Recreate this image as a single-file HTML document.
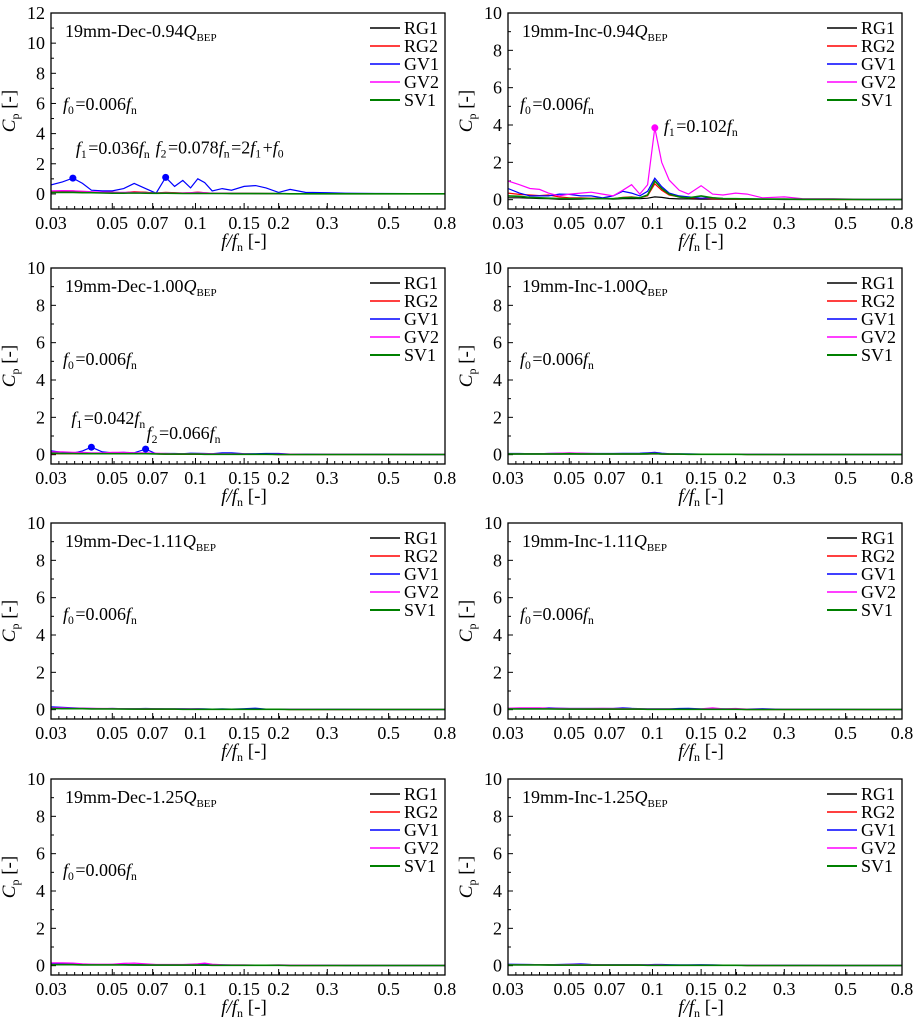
<!DOCTYPE html>
<html><head><meta charset="utf-8">
<style>
html,body{margin:0;padding:0;background:#fff;}
svg{display:block;font-family:"Liberation Serif",serif;}
</style></head>
<body>
<svg id="fig" width="918" height="1024" viewBox="0 0 918 1024"></svg>
<script>
// shared frequency grid (f/fn)
const freqs = [0.03,0.033,0.036,0.039,0.042,0.046,0.05,0.055,0.06,0.066,0.072,0.078,0.084,0.09,0.096,0.102,0.108,0.115,0.125,0.135,0.15,0.165,0.18,0.2,0.22,0.25,0.3,0.35,0.45,0.6,0.8];
const xTickLabels = [0.03,0.05,0.07,0.1,0.15,0.2,0.3,0.5,0.8];
const seriesNames = ["RG1","RG2","GV1","GV2","SV1"];

// Panel 1: Dec 0.94
const dec094_RG1 = [0.15,0.15,0.15,0.12,0.1,0.1,0.1,0.08,0.12,0.1,0.05,0.08,0.06,0.05,0.05,0.06,0.05,0.04,0.04,0.03,0.03,0.03,0.02,0.02,0.02,0.02,0.01,0.01,0.01,0.01,0.01];
const dec094_RG2 = [0.15,0.2,0.2,0.15,0.12,0.1,0.1,0.08,0.15,0.1,0.06,0.1,0.08,0.06,0.08,0.12,0.08,0.05,0.05,0.04,0.04,0.03,0.03,0.02,0.02,0.02,0.02,0.01,0.01,0.01,0.01];
const dec094_GV1 = [0.6,0.8,1.05,0.7,0.25,0.2,0.2,0.35,0.7,0.35,0.05,1.1,0.5,0.9,0.4,1.0,0.75,0.2,0.35,0.25,0.5,0.55,0.4,0.1,0.3,0.1,0.08,0.05,0.03,0.02,0.02];
const dec094_GV2 = [0.2,0.22,0.2,0.18,0.15,0.12,0.1,0.1,0.1,0.08,0.06,0.08,0.06,0.06,0.08,0.1,0.08,0.05,0.05,0.04,0.04,0.03,0.03,0.02,0.02,0.02,0.02,0.01,0.01,0.01,0.01];
const dec094_SV1 = [0.1,0.1,0.1,0.08,0.08,0.06,0.05,0.05,0.06,0.05,0.04,0.05,0.04,0.03,0.03,0.04,0.03,0.03,0.03,0.02,0.02,0.02,0.02,0.02,0.01,0.01,0.01,0.01,0.01,0.01,0.01];
// Panel 2: Inc 0.94
const inc094_RG1 = [0.1,0.1,0.08,0.06,0.05,0.02,0.02,0.03,0.05,0.05,0.03,0.05,0.06,0.05,0.08,0.15,0.12,0.06,0.04,0.04,0.03,0.03,0.02,0.02,0.02,0.02,0.01,0.01,0.01,0.01,0.01];
const inc094_RG2 = [0.35,0.28,0.25,0.22,0.25,0.15,0.1,0.1,0.08,0.08,0.05,0.12,0.15,0.1,0.2,0.85,0.5,0.25,0.15,0.1,0.08,0.05,0.04,0.03,0.03,0.02,0.02,0.02,0.01,0.01,0.01];
const inc094_GV1 = [0.6,0.35,0.2,0.2,0.2,0.3,0.28,0.2,0.2,0.1,0.2,0.45,0.35,0.2,0.45,1.15,0.7,0.35,0.2,0.15,0.08,0.1,0.06,0.05,0.05,0.03,0.03,0.02,0.02,0.01,0.01];
const inc094_GV2 = [1.0,0.8,0.6,0.55,0.35,0.2,0.3,0.35,0.4,0.3,0.2,0.5,0.8,0.3,0.8,3.85,2.0,1.05,0.5,0.3,0.75,0.3,0.25,0.35,0.3,0.1,0.15,0.05,0.05,0.02,0.02];
const inc094_SV1 = [0.2,0.18,0.12,0.1,0.08,0.06,0.06,0.06,0.05,0.06,0.05,0.1,0.12,0.1,0.25,1.0,0.6,0.3,0.15,0.1,0.2,0.1,0.06,0.05,0.04,0.03,0.03,0.02,0.02,0.01,0.01];
// Panel 3: Dec 1.00
const dec100_RG1 = [0.05,0.05,0.05,0.05,0.06,0.05,0.05,0.05,0.05,0.06,0.04,0.03,0.03,0.02,0.02,0.02,0.02,0.02,0.02,0.02,0.02,0.02,0.02,0.01,0.01,0.01,0.01,0.01,0.01,0.01,0.01];
const dec100_RG2 = [0.05,0.05,0.06,0.05,0.06,0.06,0.05,0.05,0.05,0.06,0.04,0.03,0.03,0.02,0.02,0.02,0.02,0.02,0.02,0.02,0.02,0.02,0.02,0.01,0.01,0.01,0.01,0.01,0.01,0.01,0.01];
const dec100_GV1 = [0.2,0.12,0.08,0.2,0.4,0.15,0.1,0.12,0.1,0.3,0.05,0.06,0.06,0.05,0.08,0.07,0.06,0.05,0.1,0.1,0.05,0.05,0.06,0.06,0.03,0.03,0.02,0.02,0.02,0.01,0.01];
const dec100_GV2 = [0.15,0.15,0.12,0.12,0.1,0.1,0.12,0.12,0.1,0.1,0.08,0.06,0.05,0.05,0.05,0.05,0.05,0.05,0.04,0.04,0.04,0.03,0.03,0.03,0.03,0.02,0.02,0.02,0.01,0.01,0.01];
const dec100_SV1 = [0.08,0.07,0.06,0.05,0.05,0.05,0.05,0.05,0.05,0.05,0.04,0.03,0.03,0.03,0.03,0.03,0.02,0.02,0.02,0.02,0.02,0.02,0.02,0.01,0.01,0.01,0.01,0.01,0.01,0.01,0.01];
// Panel 4: Inc 1.00
const inc100_RG1 = [0.03,0.03,0.03,0.03,0.03,0.03,0.03,0.03,0.03,0.03,0.03,0.03,0.03,0.03,0.03,0.04,0.03,0.03,0.02,0.02,0.02,0.02,0.02,0.02,0.01,0.01,0.01,0.01,0.01,0.01,0.01];
const inc100_RG2 = [0.04,0.04,0.04,0.04,0.05,0.06,0.08,0.06,0.05,0.04,0.04,0.04,0.04,0.04,0.05,0.06,0.04,0.03,0.03,0.02,0.02,0.02,0.02,0.02,0.01,0.01,0.01,0.01,0.01,0.01,0.01];
const inc100_GV1 = [0.06,0.06,0.05,0.05,0.06,0.07,0.08,0.07,0.06,0.06,0.06,0.07,0.07,0.08,0.1,0.12,0.08,0.05,0.04,0.04,0.03,0.03,0.03,0.02,0.02,0.02,0.01,0.01,0.01,0.01,0.01];
const inc100_GV2 = [0.05,0.05,0.05,0.05,0.06,0.08,0.1,0.08,0.06,0.05,0.05,0.05,0.05,0.05,0.06,0.08,0.05,0.04,0.03,0.03,0.03,0.02,0.02,0.02,0.02,0.01,0.01,0.01,0.01,0.01,0.01];
const inc100_SV1 = [0.04,0.04,0.04,0.04,0.04,0.04,0.05,0.04,0.04,0.04,0.04,0.04,0.04,0.04,0.05,0.06,0.04,0.03,0.03,0.02,0.02,0.02,0.02,0.02,0.01,0.01,0.01,0.01,0.01,0.01,0.01];
// Panel 5: Dec 1.11
const dec111_RG1 = [0.08,0.06,0.06,0.05,0.05,0.04,0.04,0.04,0.03,0.03,0.03,0.03,0.03,0.03,0.03,0.02,0.02,0.02,0.02,0.02,0.02,0.02,0.02,0.02,0.01,0.01,0.01,0.01,0.01,0.01,0.01];
const dec111_RG2 = [0.08,0.07,0.06,0.06,0.05,0.05,0.04,0.04,0.04,0.03,0.03,0.03,0.03,0.03,0.03,0.03,0.02,0.02,0.02,0.02,0.02,0.02,0.02,0.02,0.01,0.01,0.01,0.01,0.01,0.01,0.01];
const dec111_GV1 = [0.15,0.12,0.1,0.08,0.06,0.05,0.06,0.05,0.05,0.06,0.05,0.04,0.04,0.05,0.04,0.05,0.04,0.03,0.04,0.03,0.05,0.08,0.03,0.03,0.02,0.02,0.02,0.02,0.01,0.01,0.01];
const dec111_GV2 = [0.1,0.1,0.08,0.08,0.07,0.06,0.06,0.05,0.05,0.05,0.05,0.04,0.04,0.04,0.04,0.04,0.03,0.03,0.03,0.03,0.03,0.03,0.02,0.02,0.02,0.02,0.01,0.01,0.01,0.01,0.01];
const dec111_SV1 = [0.06,0.05,0.05,0.05,0.04,0.04,0.04,0.03,0.03,0.03,0.03,0.03,0.03,0.02,0.02,0.02,0.02,0.02,0.02,0.02,0.02,0.02,0.02,0.02,0.01,0.01,0.01,0.01,0.01,0.01,0.01];
// Panel 6: Inc 1.11
const inc111_RG1 = [0.05,0.05,0.05,0.04,0.04,0.04,0.03,0.03,0.03,0.03,0.03,0.03,0.03,0.02,0.02,0.02,0.02,0.02,0.02,0.02,0.02,0.02,0.02,0.02,0.01,0.01,0.01,0.01,0.01,0.01,0.01];
const inc111_RG2 = [0.06,0.06,0.06,0.05,0.05,0.04,0.04,0.04,0.03,0.03,0.03,0.03,0.03,0.03,0.03,0.02,0.02,0.02,0.02,0.02,0.02,0.02,0.02,0.02,0.01,0.01,0.01,0.01,0.01,0.01,0.01];
const inc111_GV1 = [0.06,0.07,0.08,0.08,0.1,0.08,0.06,0.06,0.06,0.06,0.06,0.1,0.07,0.05,0.04,0.04,0.04,0.04,0.06,0.07,0.04,0.04,0.04,0.03,0.03,0.05,0.02,0.02,0.02,0.01,0.01];
const inc111_GV2 = [0.08,0.1,0.1,0.1,0.08,0.07,0.06,0.06,0.06,0.07,0.06,0.06,0.05,0.05,0.04,0.04,0.04,0.04,0.03,0.03,0.04,0.1,0.04,0.06,0.03,0.02,0.02,0.02,0.01,0.01,0.01];
const inc111_SV1 = [0.04,0.04,0.04,0.04,0.04,0.03,0.03,0.03,0.03,0.03,0.03,0.03,0.03,0.03,0.02,0.02,0.02,0.02,0.02,0.02,0.02,0.02,0.02,0.02,0.01,0.01,0.01,0.01,0.01,0.01,0.01];
// Panel 7: Dec 1.25
const dec125_RG1 = [0.06,0.06,0.05,0.05,0.04,0.04,0.04,0.04,0.03,0.03,0.03,0.03,0.03,0.03,0.03,0.03,0.03,0.02,0.02,0.02,0.02,0.02,0.02,0.02,0.01,0.01,0.01,0.01,0.01,0.01,0.01];
const dec125_RG2 = [0.08,0.08,0.07,0.06,0.05,0.05,0.05,0.05,0.05,0.04,0.04,0.04,0.04,0.04,0.04,0.04,0.04,0.03,0.03,0.02,0.02,0.02,0.02,0.02,0.01,0.01,0.01,0.01,0.01,0.01,0.01];
const dec125_GV1 = [0.1,0.08,0.08,0.06,0.06,0.05,0.06,0.06,0.05,0.05,0.05,0.05,0.05,0.05,0.06,0.06,0.1,0.06,0.04,0.03,0.03,0.03,0.02,0.02,0.02,0.02,0.02,0.01,0.01,0.01,0.01];
const dec125_GV2 = [0.15,0.15,0.14,0.1,0.08,0.08,0.08,0.12,0.14,0.1,0.06,0.06,0.06,0.06,0.08,0.1,0.14,0.08,0.05,0.04,0.04,0.03,0.03,0.04,0.03,0.03,0.02,0.02,0.01,0.01,0.01];
const dec125_SV1 = [0.05,0.05,0.05,0.04,0.04,0.04,0.04,0.04,0.04,0.03,0.03,0.03,0.03,0.03,0.03,0.03,0.03,0.02,0.02,0.02,0.02,0.02,0.02,0.02,0.01,0.01,0.01,0.01,0.01,0.01,0.01];
// Panel 8: Inc 1.25
const inc125_RG1 = [0.04,0.04,0.04,0.04,0.03,0.03,0.03,0.03,0.03,0.03,0.03,0.03,0.03,0.03,0.02,0.02,0.02,0.02,0.02,0.02,0.02,0.02,0.02,0.02,0.01,0.01,0.01,0.01,0.01,0.01,0.01];
const inc125_RG2 = [0.05,0.05,0.05,0.04,0.04,0.04,0.04,0.04,0.03,0.03,0.03,0.03,0.03,0.03,0.03,0.03,0.03,0.02,0.02,0.02,0.02,0.02,0.02,0.02,0.01,0.01,0.01,0.01,0.01,0.01,0.01];
const inc125_GV1 = [0.08,0.07,0.06,0.05,0.05,0.06,0.08,0.1,0.06,0.05,0.05,0.05,0.05,0.05,0.05,0.06,0.06,0.05,0.04,0.04,0.05,0.04,0.03,0.03,0.02,0.02,0.02,0.02,0.01,0.01,0.01];
const inc125_GV2 = [0.05,0.05,0.05,0.05,0.05,0.05,0.06,0.06,0.05,0.05,0.04,0.04,0.04,0.04,0.04,0.04,0.04,0.03,0.03,0.03,0.03,0.03,0.02,0.02,0.02,0.02,0.01,0.01,0.01,0.01,0.01];
const inc125_SV1 = [0.04,0.04,0.04,0.04,0.04,0.03,0.03,0.03,0.03,0.03,0.03,0.03,0.03,0.03,0.02,0.02,0.02,0.02,0.02,0.02,0.02,0.02,0.02,0.02,0.01,0.01,0.01,0.01,0.01,0.01,0.01];

const colors = {RG1:"#000000",RG2:"#ff0000",GV1:"#0000ff",GV2:"#ff00ff",SV1:"#008000"};
const NS = "http://www.w3.org/2000/svg";
const svg = document.getElementById("fig");
function el(tag, attrs, parent){
  const e = document.createElementNS(NS, tag);
  for (const k in attrs) e.setAttribute(k, attrs[k]);
  (parent||svg).appendChild(e);
  return e;
}
const rowTops = [13, 268, 523, 779];
const colLefts = [51, 508];
const W = 394, H = 196;
const FS = 18;
const panels = [
  {id:"dec-094", title:"19mm-Dec-0.94", col:0,row:0, ymin:-1, ymax:12, yticks:[0,2,4,6,8,10,12], f0:true,
   data:{RG1:dec094_RG1,RG2:dec094_RG2,GV1:dec094_GV1,GV2:dec094_GV2,SV1:dec094_SV1},
   marks:[{s:"GV1",i:2,lbl:[["f","1"],"=0.036",["f","n"]],dx:3,dy:-24},{s:"GV1",i:11,lbl:[["f","2"],"=0.078",["f","n"],"=2",["f","1"],"+",["f","0"]],dx:-10,dy:-24}]},
  {id:"inc-094", title:"19mm-Inc-0.94", col:1,row:0, ymin:-0.5, ymax:10, yticks:[0,2,4,6,8,10], f0:true,
   data:{RG1:inc094_RG1,RG2:inc094_RG2,GV1:inc094_GV1,GV2:inc094_GV2,SV1:inc094_SV1},
   marks:[{s:"GV2",i:15,lbl:[["f","1"],"=0.102",["f","n"]],dx:9,dy:4}]},
  {id:"dec-100", title:"19mm-Dec-1.00", col:0,row:1, ymin:-0.5, ymax:10, yticks:[0,2,4,6,8,10], f0:true,
   data:{RG1:dec100_RG1,RG2:dec100_RG2,GV1:dec100_GV1,GV2:dec100_GV2,SV1:dec100_SV1},
   marks:[{s:"GV1",i:4,lbl:[["f","1"],"=0.042",["f","n"]],dx:-20,dy:-23},{s:"GV1",i:9,lbl:[["f","2"],"=0.066",["f","n"]],dx:1,dy:-10}]},
  {id:"inc-100", title:"19mm-Inc-1.00", col:1,row:1, ymin:-0.5, ymax:10, yticks:[0,2,4,6,8,10], f0:true,
   data:{RG1:inc100_RG1,RG2:inc100_RG2,GV1:inc100_GV1,GV2:inc100_GV2,SV1:inc100_SV1}, marks:[]},
  {id:"dec-111", title:"19mm-Dec-1.11", col:0,row:2, ymin:-0.5, ymax:10, yticks:[0,2,4,6,8,10], f0:true,
   data:{RG1:dec111_RG1,RG2:dec111_RG2,GV1:dec111_GV1,GV2:dec111_GV2,SV1:dec111_SV1}, marks:[]},
  {id:"inc-111", title:"19mm-Inc-1.11", col:1,row:2, ymin:-0.5, ymax:10, yticks:[0,2,4,6,8,10], f0:true,
   data:{RG1:inc111_RG1,RG2:inc111_RG2,GV1:inc111_GV1,GV2:inc111_GV2,SV1:inc111_SV1}, marks:[]},
  {id:"dec-125", title:"19mm-Dec-1.25", col:0,row:3, ymin:-0.5, ymax:10, yticks:[0,2,4,6,8,10], f0:true,
   data:{RG1:dec125_RG1,RG2:dec125_RG2,GV1:dec125_GV1,GV2:dec125_GV2,SV1:dec125_SV1}, marks:[]},
  {id:"inc-125", title:"19mm-Inc-1.25", col:1,row:3, ymin:-0.5, ymax:10, yticks:[0,2,4,6,8,10], f0:false,
   data:{RG1:inc125_RG1,RG2:inc125_RG2,GV1:inc125_GV1,GV2:inc125_GV2,SV1:inc125_SV1}, marks:[]}
];
const XMIN = 0.03, XMAX = 0.8;

function richText(parent, x, y, parts, size, name){
  const t = el("text", {x:x, y:y, "font-size":size, fill:"#000"}, parent);
  
  
  parts.forEach(p=>{
    if (typeof p === "string"){ const s = el("tspan", {}, t); s.textContent = p; }
    else {
      const a = el("tspan", {"font-style":"italic"}, t); a.textContent = p[0];
      const b = el("tspan", {"font-size":size*0.65, "font-style":"normal", dy:4}, t); b.textContent = p[1];
      const c = el("tspan", {dy:-4, "font-size":size}, t); c.textContent = "\u200a";
    }
  });
  return t;
}

panels.forEach(p=>{
  const L = colLefts[p.col], T = rowTops[p.row];
  const g = el("g", {});
  
  
  const xs = v => L + W * Math.log(v/XMIN)/Math.log(XMAX/XMIN);
  const ys = v => T + H * (p.ymax - v)/(p.ymax - p.ymin);
  p.yticks.forEach(v=>{
    const y = ys(v);
    const tk = el("line", {x1:L, x2:L+5, y1:y, y2:y, stroke:"#000", "stroke-width":1}, g);
    
    
    const lb = el("text", {x:L-6, y:y+6, "font-size":FS, "text-anchor":"end"}, g);
    
    
    lb.textContent = v;
    const ym = ys(v - 1);
    if (v - 1 > p.ymin) {
      const mt = el("line", {x1:L, x2:L+3, y1:ym, y2:ym, stroke:"#000", "stroke-width":1}, g);
      
      
    }
  });
  for (let k=1;k<50;k++){
    const x = L + W*k/50;
    const mt = el("line", {x1:x, x2:x, y1:T+H, y2:T+H-3, stroke:"#000", "stroke-width":1}, g);
    
    
  }
  xTickLabels.forEach(v=>{
    const x = xs(v);
    const tk = el("line", {x1:x, x2:x, y1:T+H, y2:T+H-6, stroke:"#000", "stroke-width":1}, g);
    
    
    const lb = el("text", {x:x, y:T+H+20, "font-size":FS, "text-anchor":"middle"}, g);
    
    
    lb.textContent = v;
  });
  const clipId = "clip-" + p.id;
  const cp = el("clipPath", {id:clipId}, g);
  el("rect", {x:L, y:T, width:W, height:H}, cp);
  seriesNames.forEach(s=>{
    const vals = p.data[s];
    const d = vals.map((v,i)=>(i?"L":"M")+xs(freqs[i]).toFixed(1)+","+ys(v).toFixed(1)).join("");
    const path = el("path", {d:d, fill:"none", stroke:colors[s], "stroke-width":s==="SV1"?1.6:1.2, "clip-path":"url(#"+clipId+")"}, g);
    
    
  });
  p.marks.forEach(m=>{
    const cx = xs(freqs[m.i]), cy = ys(p.data[m.s][m.i]);
    const c = el("circle", {cx:cx, cy:cy, r:3.5, fill:colors[m.s]}, g);
    
    
    richText(g, cx + m.dx, cy + m.dy, m.lbl, FS, 'peak-annotation');
  });
  const fr = el("rect", {x:L, y:T, width:W, height:H, fill:"none", stroke:"#000", "stroke-width":1.3}, g);
  
  
  const tt = el("text", {x:L+14, y:T+24, "font-size":FS}, g);
  
  
  const a = el("tspan", {}, tt); a.textContent = p.title;
  const b = el("tspan", {"font-style":"italic"}, tt); b.textContent = "Q";
  const c2 = el("tspan", {"font-size":11, dy:4}, tt); c2.textContent = "BEP";
  if (p.f0) richText(g, L+12, T+97, [["f","0"],"=0.006",["f","n"]], FS, 'f0-annotation');
  seriesNames.forEach((s,i)=>{
    const y = T + 15 + i*18;
    const ln = el("line", {x1:L+319, x2:L+349, y1:y, y2:y, stroke:colors[s], "stroke-width":s==="SV1"?2:1.4}, g);
    
    
    const lt = el("text", {x:L+353, y:y+6, "font-size":FS}, g);
    
    
    lt.textContent = s;
  });
  const yt = el("text", {transform:"translate("+(L-36)+","+(T+H/2)+") rotate(-90)", "font-size":19, "text-anchor":"middle"}, g);
  
  
  const y1 = el("tspan", {"font-style":"italic"}, yt); y1.textContent = "C";
  const y2 = el("tspan", {"font-size":12, dy:4}, yt); y2.textContent = "p";
  const y3 = el("tspan", {dy:-4}, yt); y3.textContent = " [-]";
  const xt = el("text", {x:L+W/2-4, y:T+H+38, "font-size":19, "text-anchor":"middle"}, g);
  
  
  const x1 = el("tspan", {"font-style":"italic"}, xt); x1.textContent = "f/f";
  const x2 = el("tspan", {"font-size":12, dy:4}, xt); x2.textContent = "n";
  const x3 = el("tspan", {dy:-4}, xt); x3.textContent = " [-]";
});
</script>
</body></html>
